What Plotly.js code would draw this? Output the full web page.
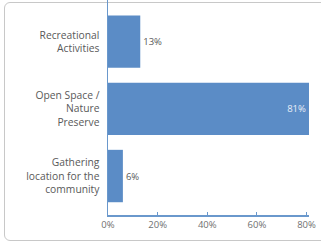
<!DOCTYPE html>
<html><head><meta charset="utf-8">
<script src="https://cdn.plot.ly/plotly-3.0.1.min.js"></script>
<style>
html,body{margin:0;padding:0;background:#fff;}
#frame{position:absolute;left:4px;top:2px;width:340px;height:239px;border:1px solid #c8c8c8;border-radius:6px;box-sizing:border-box;}
#chart{position:absolute;left:0;top:0;width:321px;height:248px;}
</style></head>
<body>
<div id="frame"></div>
<div id="chart"></div>
<script>
var categories = ["Gathering<br>location for the<br>community", "Open Space /<br>Nature<br>Preserve", "Recreational<br>Activities"];
var values = [6, 81, 13];
var valueLabels = ["6%", "81%", "13%"];
var tickVals = [0, 20, 40, 60, 80];
var tickText = ["0%", "20%", "40%", "60%", "80%"];

var trace = {
  type: 'bar', orientation: 'h',
  y: categories, x: values,
  text: valueLabels,
  textposition: values.map(function(v){ return v > 50 ? 'inside' : 'outside'; }),
  insidetextanchor: 'end',
  textfont: {family: 'Open Sans', size: 9.5},
  insidetextfont: {color: '#e8eef7', family: 'Open Sans', size: 9.5},
  outsidetextfont: {color: '#595959', family: 'Open Sans', size: 9.5},
  marker: {color: '#5b8cc6', line: {width: 0}},
  width: 0.78,
  cliponaxis: false,
  hoverinfo: 'none'
};
var layout = {
  width: 321, height: 248,
  margin: {l: 108, r: 11.5, t: 0, b: 33, pad: 0},
  paper_bgcolor: 'rgba(0,0,0,0)', plot_bgcolor: 'rgba(0,0,0,0)',
  showlegend: false,
  font: {family: 'Open Sans', color: '#595959', size: 10},
  xaxis: {
    range: [0, 81], tickvals: tickVals, ticktext: tickText,
    showgrid: false, zeroline: false,
    showline: true, linecolor: '#6a98cc', linewidth: 1.5,
    ticks: 'inside', ticklen: 3, tickcolor: '#6a98cc',
    tickfont: {size: 9.5, color: '#707070'}, fixedrange: true
  },
  yaxis: {
    type: 'category', range: [-0.58, 2.62],
    showgrid: false, zeroline: false,
    showline: true, linecolor: '#6a98cc', linewidth: 1.5,
    ticks: '', ticklabelstandoff: 5,
    tickfont: {size: 10.3, color: '#595959'}, fixedrange: true
  }
};
Plotly.newPlot('chart', [trace], layout, {staticPlot: true, displayModeBar: false});
</script>
</body></html>
